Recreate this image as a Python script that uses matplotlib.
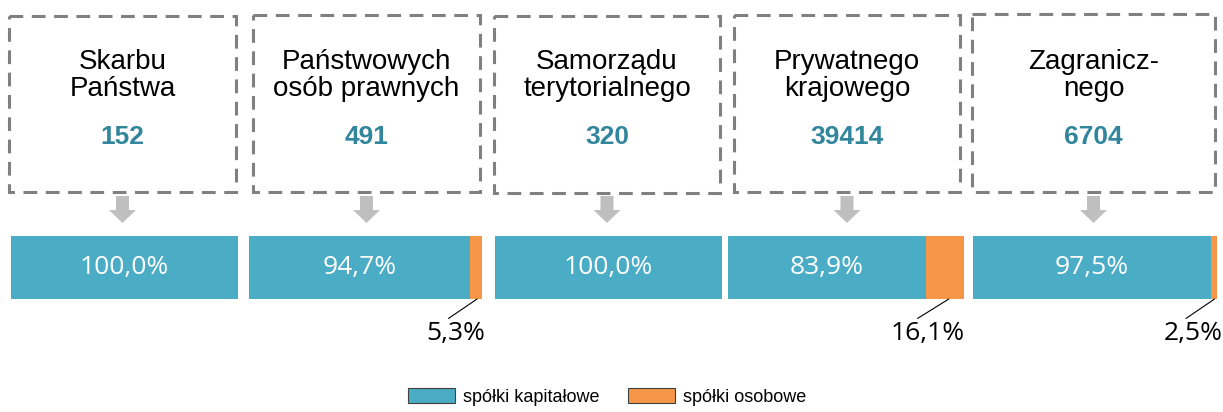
import matplotlib.pyplot as plt
from matplotlib.patches import Rectangle, Patch

# Data
groups = ["Skarbu\nPaństwa", "Państwowych\nosób prawnych", "Samorządu\nterytorialnego",
          "Prywatnego\nkrajowego", "Zagranicz-\nnego"]
counts = [152, 491, 320, 39414, 6704]
kapitalowe = [100.0, 94.7, 100.0, 83.9, 97.5]
osobowe = [0.0, 5.3, 0.0, 16.1, 2.5]
legend_labels = ["spółki kapitałowe", "spółki osobowe"]

teal = "#4BACC6"
orange = "#F79646"
num_color = "#31859C"
dash_gray = "#808080"
arrow_gray = "#BFBFBF"

W, H = 1223, 412
fig = plt.figure(figsize=(W / 100, H / 100), dpi=100)

# background axes in pixel units (y pointing down)
bg = fig.add_axes([0, 0, 1, 1])
bg.set_xlim(0, W)
bg.set_ylim(H, 0)
bg.axis("off")

# layout in pixels
boxes = [(9, 236, 16, 192), (253, 480, 15, 192), (494, 720, 16, 193),
         (734, 960, 15, 192), (972, 1215, 14, 192)]
bars = [(11, 238), (249, 482), (495, 722), (728, 964), (973, 1217)]
bar_top, bar_bot = 236, 299


def fmt(v):
    return "{:.1f}".format(v).replace(".", ",") + "%"


for i in range(5):
    x0, x1, y0, y1 = boxes[i]
    bg.add_patch(Rectangle((x0, y0), x1 - x0, y1 - y0, fill=False, edgecolor=dash_gray,
                           linewidth=2.2, linestyle=(0, (4.5, 2.8))))
    cx = (x0 + x1) / 2
    bg.text(cx, 75, groups[i], ha="center", va="center", fontsize=20,
            family="Liberation Sans", linespacing=1.05)
    bg.text(cx, 137, str(counts[i]), ha="center", va="center", fontsize=19,
            family="Liberation Sans", fontweight="bold", color=num_color)
    bg.arrow(cx, 196, 0, 27, width=13, head_width=27, head_length=13,
             length_includes_head=True, color=arrow_gray, linewidth=0)

    # bar axes
    bx0, bx1 = bars[i]
    ax = fig.add_axes([bx0 / W, 1 - bar_bot / H, (bx1 - bx0) / W, (bar_bot - bar_top) / H])
    ax.barh(0, kapitalowe[i], height=1, color=teal)
    ax.barh(0, osobowe[i], left=kapitalowe[i], height=1, color=orange)
    ax.set_xlim(0, kapitalowe[i] + osobowe[i])
    ax.set_ylim(-0.5, 0.5)
    ax.axis("off")
    ax.text(kapitalowe[i] / 2, 0, fmt(kapitalowe[i]), ha="center", va="center",
            fontsize=19, family="Open Sans", color="white")
    if osobowe[i] > 0:
        ax.annotate(fmt(osobowe[i]), xy=(kapitalowe[i] + osobowe[i] * 0.6, -0.5),
                    xytext=(-15, -25), textcoords="offset points",
                    ha="center", va="center", fontsize=19, family="Open Sans",
                    annotation_clip=False,
                    arrowprops=dict(arrowstyle="-", color="black", linewidth=0.8,
                                    relpos=(0.3, 1.0), shrinkA=0, shrinkB=0))

handles = [Patch(facecolor=teal, edgecolor="#404040", linewidth=0.8),
           Patch(facecolor=orange, edgecolor="#404040", linewidth=0.8)]
fig.legend(handles, legend_labels, loc="center", bbox_to_anchor=(607 / W, 1 - 397 / H),
           ncol=2, frameon=False, prop={"family": "Liberation Sans", "size": 13},
           handlelength=2.6, handleheight=0.9, columnspacing=1.6, handletextpad=0.45)

fig.savefig("out.png", dpi=100)
